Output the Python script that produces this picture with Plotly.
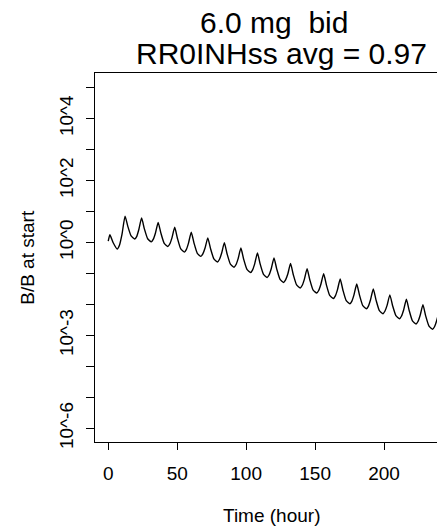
import plotly.graph_objects as go

# Data (time in hours, log10 of B/B at start)
time_hour = [
    0, 1.2, 3.5, 6.5, 8.2, 10.0,
    12.2, 14.2, 16.6, 19.2, 20.6, 22.2,
    24.2, 26.2, 28.6, 31.2, 32.6, 34.2,
    36.2, 38.2, 40.6, 43.2, 44.6, 46.2,
    48.2, 50.2, 52.6, 55.2, 56.6, 58.2,
    60.2, 62.2, 64.6, 67.2, 68.6, 70.2,
    72.2, 74.2, 76.6, 79.2, 80.6, 82.2,
    84.2, 86.2, 88.6, 91.2, 92.6, 94.2,
    96.2, 98.2, 100.6, 103.2, 104.6, 106.2,
    108.2, 110.2, 112.6, 115.2, 116.6, 118.2,
    120.2, 122.2, 124.6, 127.2, 128.6, 130.2,
    132.2, 134.2, 136.6, 139.2, 140.6, 142.2,
    144.2, 146.2, 148.6, 151.2, 152.6, 154.2,
    156.2, 158.2, 160.6, 163.2, 164.6, 166.2,
    168.2, 170.2, 172.6, 175.2, 176.6, 178.2,
    180.2, 182.2, 184.6, 187.2, 188.6, 190.2,
    192.2, 194.2, 196.6, 199.2, 200.6, 202.2,
    204.2, 206.2, 208.6, 211.2, 212.6, 214.2,
    216.2, 218.2, 220.6, 223.2, 224.6, 226.2,
    228.2, 230.2, 232.6, 235.2, 236.6, 238.2,
    240.2,
]
log10_bb = [
    0.04, 0.25, 0.00, -0.21, -0.08, 0.27,
    0.85, 0.52, 0.21, 0.11, 0.19, 0.42,
    0.79, 0.44, 0.12, 0.02, 0.10, 0.30,
    0.65, 0.30, -0.03, -0.13, -0.05, 0.15,
    0.49, 0.13, -0.21, -0.31, -0.23, -0.02,
    0.33, -0.02, -0.35, -0.45, -0.37, -0.18,
    0.15, -0.20, -0.53, -0.63, -0.55, -0.35,
    -0.01, -0.37, -0.70, -0.80, -0.72, -0.52,
    -0.18, -0.54, -0.87, -0.97, -0.89, -0.69,
    -0.34, -0.70, -1.03, -1.13, -1.05, -0.85,
    -0.50, -0.86, -1.19, -1.29, -1.21, -1.02,
    -0.68, -1.04, -1.37, -1.47, -1.39, -1.19,
    -0.85, -1.21, -1.54, -1.63, -1.55, -1.35,
    -1.01, -1.37, -1.71, -1.81, -1.73, -1.53,
    -1.18, -1.54, -1.88, -1.98, -1.90, -1.69,
    -1.34, -1.70, -2.04, -2.14, -2.06, -1.85,
    -1.50, -1.86, -2.20, -2.30, -2.22, -2.03,
    -1.69, -2.04, -2.36, -2.46, -2.38, -2.18,
    -1.83, -2.19, -2.53, -2.63, -2.55, -2.35,
    -2.01, -2.37, -2.70, -2.80, -2.72, -2.52,
    -2.17,
]
bb_values = [10 ** v for v in log10_bb]

x_tick_vals = [0, 50, 100, 150, 200]
y_tick_exponents = [-6, -5, -4, -3, -2, -1, 0, 1, 2, 3, 4, 5]
y_tick_labels = ["10^-6", "", "", "10^-3", "", "", "10^0", "", "10^2", "", "10^4", ""]

title_line1 = "6.0 mg  bid"
title_line2 = "RR0INHss avg = 0.97"
x_title = "Time (hour)"
y_title = "B/B at start"

FONT = "Liberation Sans, Arial, Helvetica, sans-serif"

fig = go.Figure()
fig.add_trace(go.Scatter(
    x=time_hour, y=bb_values, mode="lines",
    line=dict(color="black", width=1.4, shape="spline", smoothing=0.5),
    showlegend=False, hoverinfo="skip",
))

fig.update_layout(
    width=437, height=526,
    margin=dict(l=95, r=0, t=73, b=84),
    paper_bgcolor="white", plot_bgcolor="white",
    font=dict(family=FONT, color="black", size=19),
    xaxis=dict(
        range=[-9.6, 238.4],
        tickvals=x_tick_vals,
        ticktext=[str(v) for v in x_tick_vals],
        ticks="outside", ticklen=7, tickwidth=1, tickcolor="black",
        showline=True, linecolor="black", linewidth=1, mirror=True,
        showgrid=False, zeroline=False,
        tickfont=dict(size=19),
        ticklabelstandoff=7,
    ),
    yaxis=dict(
        type="log",
        range=[-6.44, 5.47],
        tickvals=[10 ** e for e in y_tick_exponents],
        ticktext=y_tick_labels,
        tickangle=-90,
        ticks="outside", ticklen=8, tickwidth=1, tickcolor="black",
        showline=True, linecolor="black", linewidth=1, mirror=False,
        showgrid=False, zeroline=False,
        tickfont=dict(size=19),
        ticklabelstandoff=5,
    ),
)

fig.add_annotation(text=title_line1, xref="paper", yref="paper",
                   x=0.522, y=1.1356, xanchor="center", yanchor="middle",
                   showarrow=False, font=dict(size=30, family=FONT))
fig.add_annotation(text=title_line2, xref="paper", yref="paper",
                   x=0.544, y=1.054, xanchor="center", yanchor="middle",
                   showarrow=False, font=dict(size=30, family=FONT))
fig.add_annotation(text=x_title, xref="paper", yref="paper",
                   x=0.517, y=-0.1988, xanchor="center", yanchor="middle",
                   showarrow=False, font=dict(size=19, family=FONT))
fig.add_annotation(text=y_title, xref="paper", yref="paper",
                   x=-0.198, y=0.5, xanchor="center", yanchor="middle",
                   textangle=-90,
                   showarrow=False, font=dict(size=19, family=FONT))

fig.write_html(
    "out.html",
    config={"displayModeBar": False},
    post_script="document.body.style.margin='0';document.body.style.overflow='hidden';",
)
